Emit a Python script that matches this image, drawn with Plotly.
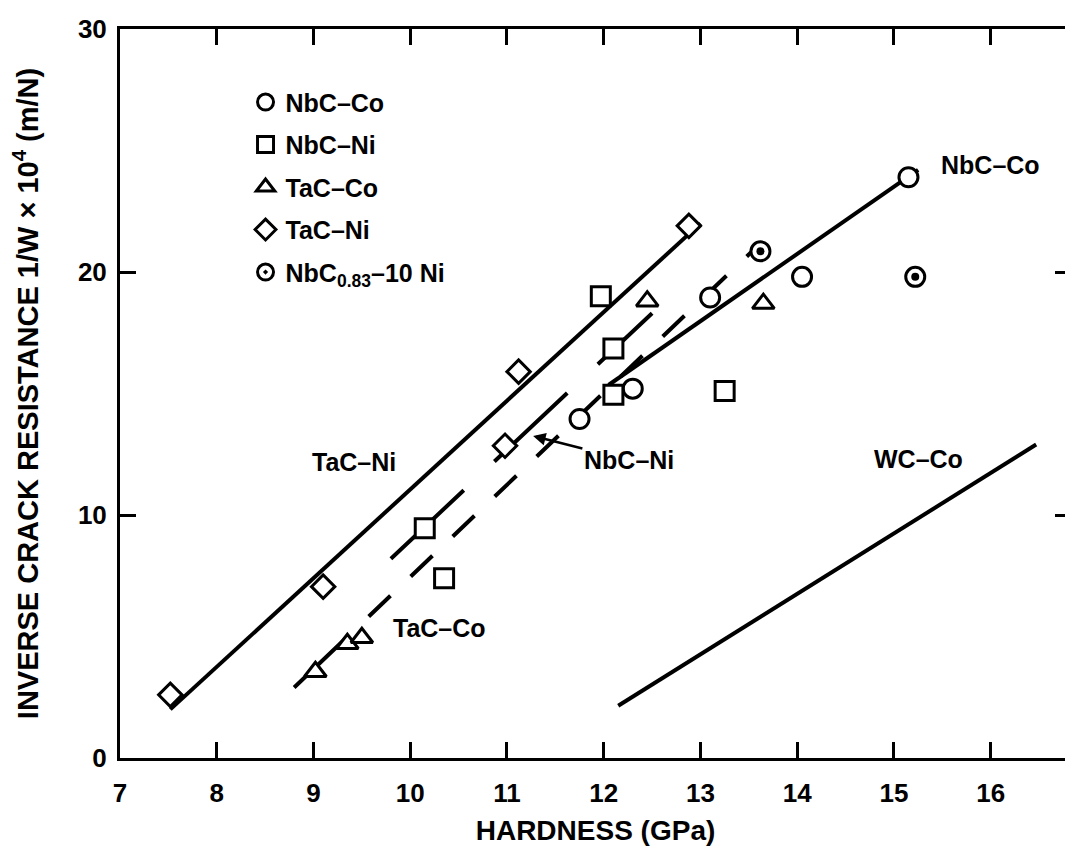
import plotly.graph_objects as go

# ---------------- data ----------------
nbc_co_x = [11.75, 12.3, 13.1, 14.05, 15.15]
nbc_co_y = [13.95, 15.2, 18.95, 19.8, 23.9]

nbc_ni_x = [10.15, 10.35, 11.97, 12.1, 12.1, 13.25]
nbc_ni_y = [9.45, 7.4, 19.0, 16.85, 14.95, 15.1]

tac_co_x = [9.02, 9.35, 9.5, 12.45, 13.65]
tac_co_y = [3.55, 4.7, 4.95, 18.8, 18.7]

tac_ni_x = [7.52, 9.1, 10.98, 11.12, 12.88]
tac_ni_y = [2.6, 7.05, 12.85, 15.9, 21.9]

nbc083_x = [13.62, 15.22]
nbc083_y = [20.85, 19.8]

# trend lines (end points)
fit_tac_ni_x = [7.52, 13.0]
fit_tac_ni_y = [2.0, 22.0]
fit_tac_co_x = [8.8, 13.6]
fit_tac_co_y = [2.9, 21.1]
fit_nbc_ni_x = [9.8, 12.5]
fit_nbc_ni_y = [8.2, 18.3]
fit_nbc_co_x = [12.05, 15.25]
fit_nbc_co_y = [15.35, 24.2]
fit_wc_co_x = [12.15, 16.47]
fit_wc_co_y = [2.15, 12.9]

x_ticks = [7, 8, 9, 10, 11, 12, 13, 14, 15, 16]
y_ticks = [0, 10, 20, 30]

# ---------------- figure ----------------
FONT = "Liberation Sans"
BLACK = "black"
fig = go.Figure()

def line(xs, ys, dash="solid"):
    fig.add_trace(go.Scatter(x=xs, y=ys, mode="lines", showlegend=False,
                             line=dict(color=BLACK, width=4, dash=dash),
                             hoverinfo="skip"))

line(fit_tac_ni_x, fit_tac_ni_y)
line(fit_tac_co_x, fit_tac_co_y, "75px,28px" + ",30px,28px" * 12)
line(fit_nbc_ni_x, fit_nbc_ni_y, "100px,42px")
line(fit_nbc_co_x, fit_nbc_co_y)
line(fit_wc_co_x, fit_wc_co_y)

def pts(xs, ys, name, symbol, size):
    fig.add_trace(go.Scatter(x=xs, y=ys, mode="markers", name=name,
                             legendgroup=name,
                             marker=dict(symbol=symbol, size=size, color="white",
                                         line=dict(color=BLACK, width=3))))

pts(nbc_co_x, nbc_co_y, "NbC–Co", "circle", 19)
pts(nbc_ni_x, nbc_ni_y, "NbC–Ni", "square", 19)
pts(tac_co_x, tac_co_y, "TaC–Co", "triangle-up", 19)
pts(tac_ni_x, tac_ni_y, "TaC–Ni", "diamond", 18)
pts(nbc083_x, nbc083_y, "NbC<sub>0.83</sub>–10 Ni", "circle-dot", 19)
fig.add_trace(go.Scatter(x=nbc083_x, y=nbc083_y, mode="markers", showlegend=False,
                         marker=dict(symbol="circle", size=8, color=BLACK),
                         hoverinfo="skip"))

tfont = dict(family=FONT, size=25, color=BLACK, weight="bold")
def label(x, y, text):
    fig.add_annotation(x=x, y=y, text=text, showarrow=False, font=tfont)

label(9.42, 12.2, "TaC–Ni")
label(10.3, 5.33, "TaC–Co")
label(16.0, 24.4, "NbC–Co")
label(15.25, 12.3, "WC–Co")
fig.add_annotation(x=11.27, y=13.25, ax=12.26, ay=12.25, axref="x", ayref="y",
                   text="NbC–Ni", showarrow=True, arrowhead=2, arrowsize=1,
                   arrowwidth=2.5, arrowcolor=BLACK, font=tfont)

axis_common = dict(showgrid=False, zeroline=False, showline=True, linecolor=BLACK,
                   linewidth=3, mirror="ticks", ticks="inside", ticklen=16,
                   tickwidth=3, tickcolor=BLACK, automargin=False,
                   tickfont=dict(family=FONT, size=26, color=BLACK, weight="bold"))

fig.update_xaxes(range=[7, 16.83], tickvals=x_ticks, ticktext=[str(v) for v in x_ticks],
                 ticklabelstandoff=10,
                 title=dict(text="HARDNESS (GPa)", standoff=14,
                            font=dict(family=FONT, size=28, color=BLACK, weight="bold")),
                 **axis_common)
fig.update_yaxes(range=[0, 30], tickvals=y_ticks, ticktext=[str(v) for v in y_ticks],
                 ticklabelstandoff=5,
                 title=dict(text="INVERSE CRACK RESISTANCE 1/W × 10<sup>4</sup> (m/N)",
                            standoff=34,
                            font=dict(family=FONT, size=29, color=BLACK, weight="bold")),
                 **axis_common)

fig.update_layout(
    width=1073, height=854,
    margin=dict(l=112, r=10, t=21, b=104),
    paper_bgcolor="white", plot_bgcolor="white",
    showlegend=True,
    legend=dict(x=0.132, y=0.931, xanchor="left", yanchor="top",
                bgcolor="rgba(0,0,0,0)", traceorder="grouped", tracegroupgap=7,
                font=dict(family=FONT, size=25, color=BLACK, weight="bold"),
                itemsizing="trace"),
)

fig.write_html("out.html")
